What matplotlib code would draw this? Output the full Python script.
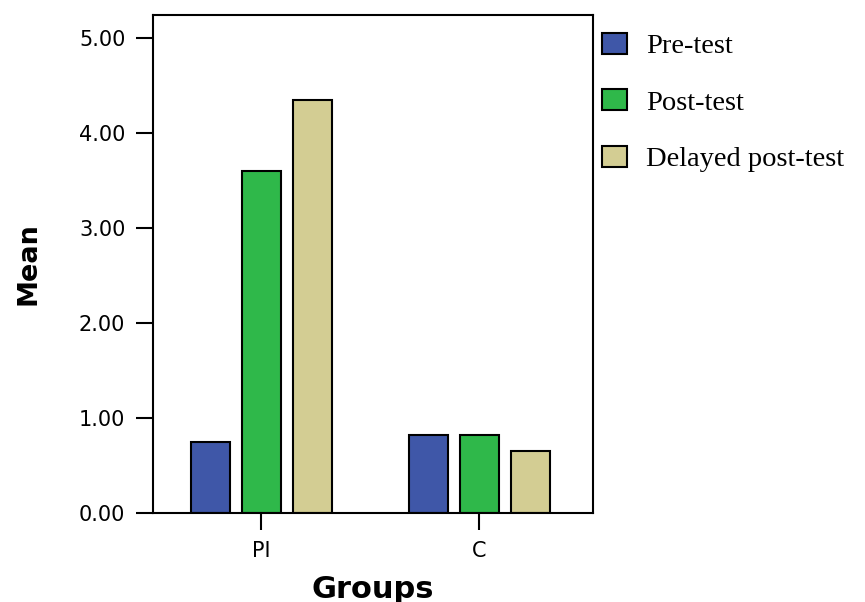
import numpy as np
import matplotlib.pyplot as plt
from matplotlib.patches import Patch

# group means
groups = ['PI', 'C']
series = ['Pre-test', 'Post-test', 'Delayed post-test']
pre_test = [0.75, 0.82]
post_test = [3.60, 0.82]
delayed = [4.35, 0.65]
colors = ['#3f57a8', '#2fb84a', '#d3cd93']

values = [pre_test, post_test, delayed]
x_pos = np.arange(len(groups))
width = 0.179
offset = 0.234

fig = plt.figure(figsize=(8.65, 6.02), dpi=100)
ax = fig.add_axes([0.177, 0.148, 0.509, 0.827])

for i, vals in enumerate(values):
    ax.bar(x_pos + (i - 1) * offset, vals, width,
           color=colors[i], edgecolor='black', linewidth=1.5)

ax.set_xlim(-0.495, 1.523)
ax.set_ylim(0, 5.24)
ax.set_yticks([0, 1, 2, 3, 4, 5])
ax.set_yticklabels(['%.2f' % v for v in [0, 1, 2, 3, 4, 5]])
ax.set_xticks(x_pos)
ax.set_xticklabels(groups)
ax.tick_params(axis='both', length=12, width=1.5, labelsize=15, pad=8)
for s in ax.spines.values():
    s.set_linewidth(1.5)

ax.set_ylabel('Mean', fontsize=19.5, fontweight='bold', labelpad=27)
ax.set_xlabel('Groups', fontsize=22, fontweight='bold', labelpad=10)

handles = [Patch(facecolor=c, edgecolor='black', linewidth=1.5) for c in colors]
fig.legend(handles, series, loc='upper left', bbox_to_anchor=(0.666, 0.988),
           frameon=False, prop={'family': 'Liberation Serif', 'size': 20.5},
           handlelength=0.88, handleheight=0.77, handletextpad=0.67, labelspacing=1.05)

plt.savefig('out.png', dpi=100)
